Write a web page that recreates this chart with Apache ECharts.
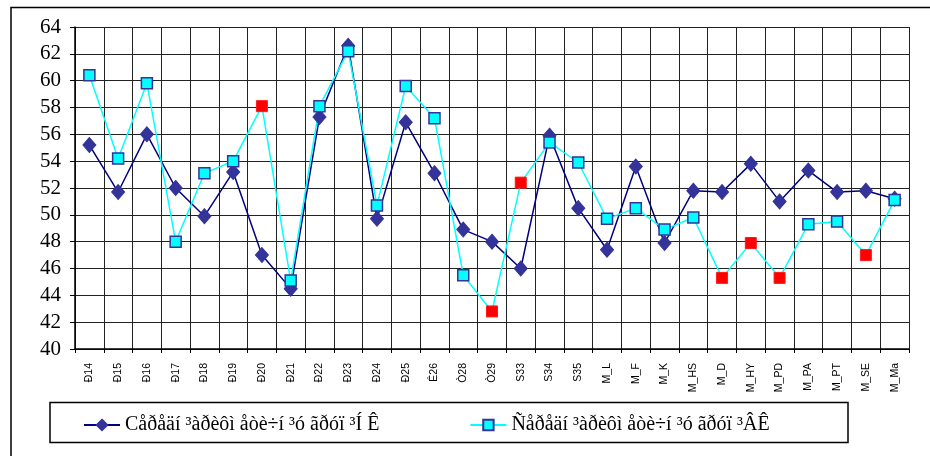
<!DOCTYPE html>
<html>
<head>
<meta charset="utf-8">
<script src="https://cdn.jsdelivr.net/npm/echarts@6/dist/echarts.min.js"></script>
<style>html,body{margin:0;padding:0;background:#fff;}#c{width:930px;height:456px;}</style>
</head>
<body>
<div id="c"></div>
<script>
const categories = ['Ð14','Ð15','Ð16','Ð17','Ð18','Ð19','Ð20','Ð21','Ð22','Ð23','Ð24','Ð25','Ê26','Ò28','Ò29','S33','S34','S35','M_L','M_F','M_K','M_HS','M_D','M_HY','M_PD','M_PA','M_PT','M_SE','M_Ma'];
const seriesNK = [55.2,51.7,56.0,52.0,49.9,53.2,47.0,44.5,57.3,62.6,49.7,56.9,53.1,48.9,48.0,46.0,55.9,50.5,47.4,53.6,47.9,51.8,51.7,53.8,51.0,53.3,51.7,51.8,51.2];
const seriesVK = [60.4,54.2,59.8,48.0,53.1,54.0,58.1,45.1,58.1,62.2,50.7,59.6,57.2,45.5,42.8,52.4,55.4,53.9,49.7,50.5,48.9,49.8,45.3,47.9,45.3,49.3,49.5,47.0,51.1];
const redPoints = ['Ð20','Ò29','S33','M_D','M_HY','M_PD','M_SE'];
const yTicks = {min: 40, max: 64, interval: 2};
const names = ['Cåðåäí ³àðèôì åòè÷í ³ó ãðóï ³Í Ê', 'Ñåðåäí ³àðèôì åòè÷í ³ó ãðóï ³ÂÊ'];

const vkData = seriesVK.map((v, i) => redPoints.includes(categories[i])
  ? {value: v, itemStyle: {color: '#ff0000', borderColor: '#ff1a1a', borderWidth: 1}}
  : v);

const chart = echarts.init(document.getElementById('c'), null, {renderer: 'canvas'});
chart.setOption({
  animation: false,
  backgroundColor: '#fff',
  graphic: [
    {type: 'rect', z: -1, shape: {x: 11, y: 7.5, width: 940, height: 470}, style: {fill: 'none', stroke: '#000', lineWidth: 1.5}},
    {type: 'rect', z: -1, shape: {x: 50, y: 402.5, width: 798, height: 40}, style: {fill: '#fff', stroke: '#000', lineWidth: 1.5}}
  ],
  grid: {left: 75, right: 21, top: 27, bottom: 107, containLabel: false},
  legend: {
    left: 78, top: 410, itemWidth: 36, itemHeight: 13, itemGap: 90,
    textStyle: {fontFamily: 'Liberation Serif', fontSize: 20, color: '#000'},
    data: names
  },
  xAxis: {
    type: 'category', data: categories, boundaryGap: true,
    axisLine: {lineStyle: {color: '#000', width: 1.5}},
    axisTick: {show: true, length: 4, lineStyle: {color: '#000'}},
    splitLine: {show: true, lineStyle: {color: '#222', width: 1}},
    axisLabel: {rotate: 90, fontFamily: 'Liberation Sans', fontSize: 10.5, color: '#000', margin: 14, interval: 0}
  },
  yAxis: {
    type: 'value', min: yTicks.min, max: yTicks.max, interval: yTicks.interval,
    axisLine: {show: true, lineStyle: {color: '#000', width: 1.5}},
    axisTick: {show: true, length: 5, lineStyle: {color: '#000'}},
    splitLine: {show: true, lineStyle: {color: '#222', width: 1}},
    axisLabel: {fontFamily: 'Liberation Serif', fontSize: 21, color: '#000', margin: 14}
  },
  series: [
    {
      name: names[0], type: 'line', data: seriesNK,
      symbol: 'diamond', symbolSize: [13, 15],
      lineStyle: {color: '#000080', width: 1.5},
      itemStyle: {color: '#333399', borderColor: '#333399', borderWidth: 1}
    },
    {
      name: names[1], type: 'line', data: vkData,
      symbol: 'rect', symbolSize: 11,
      lineStyle: {color: '#00ffff', width: 1.5},
      itemStyle: {color: '#00ffff', borderColor: '#333399', borderWidth: 1.5}
    }
  ]
});
</script>
</body>
</html>
